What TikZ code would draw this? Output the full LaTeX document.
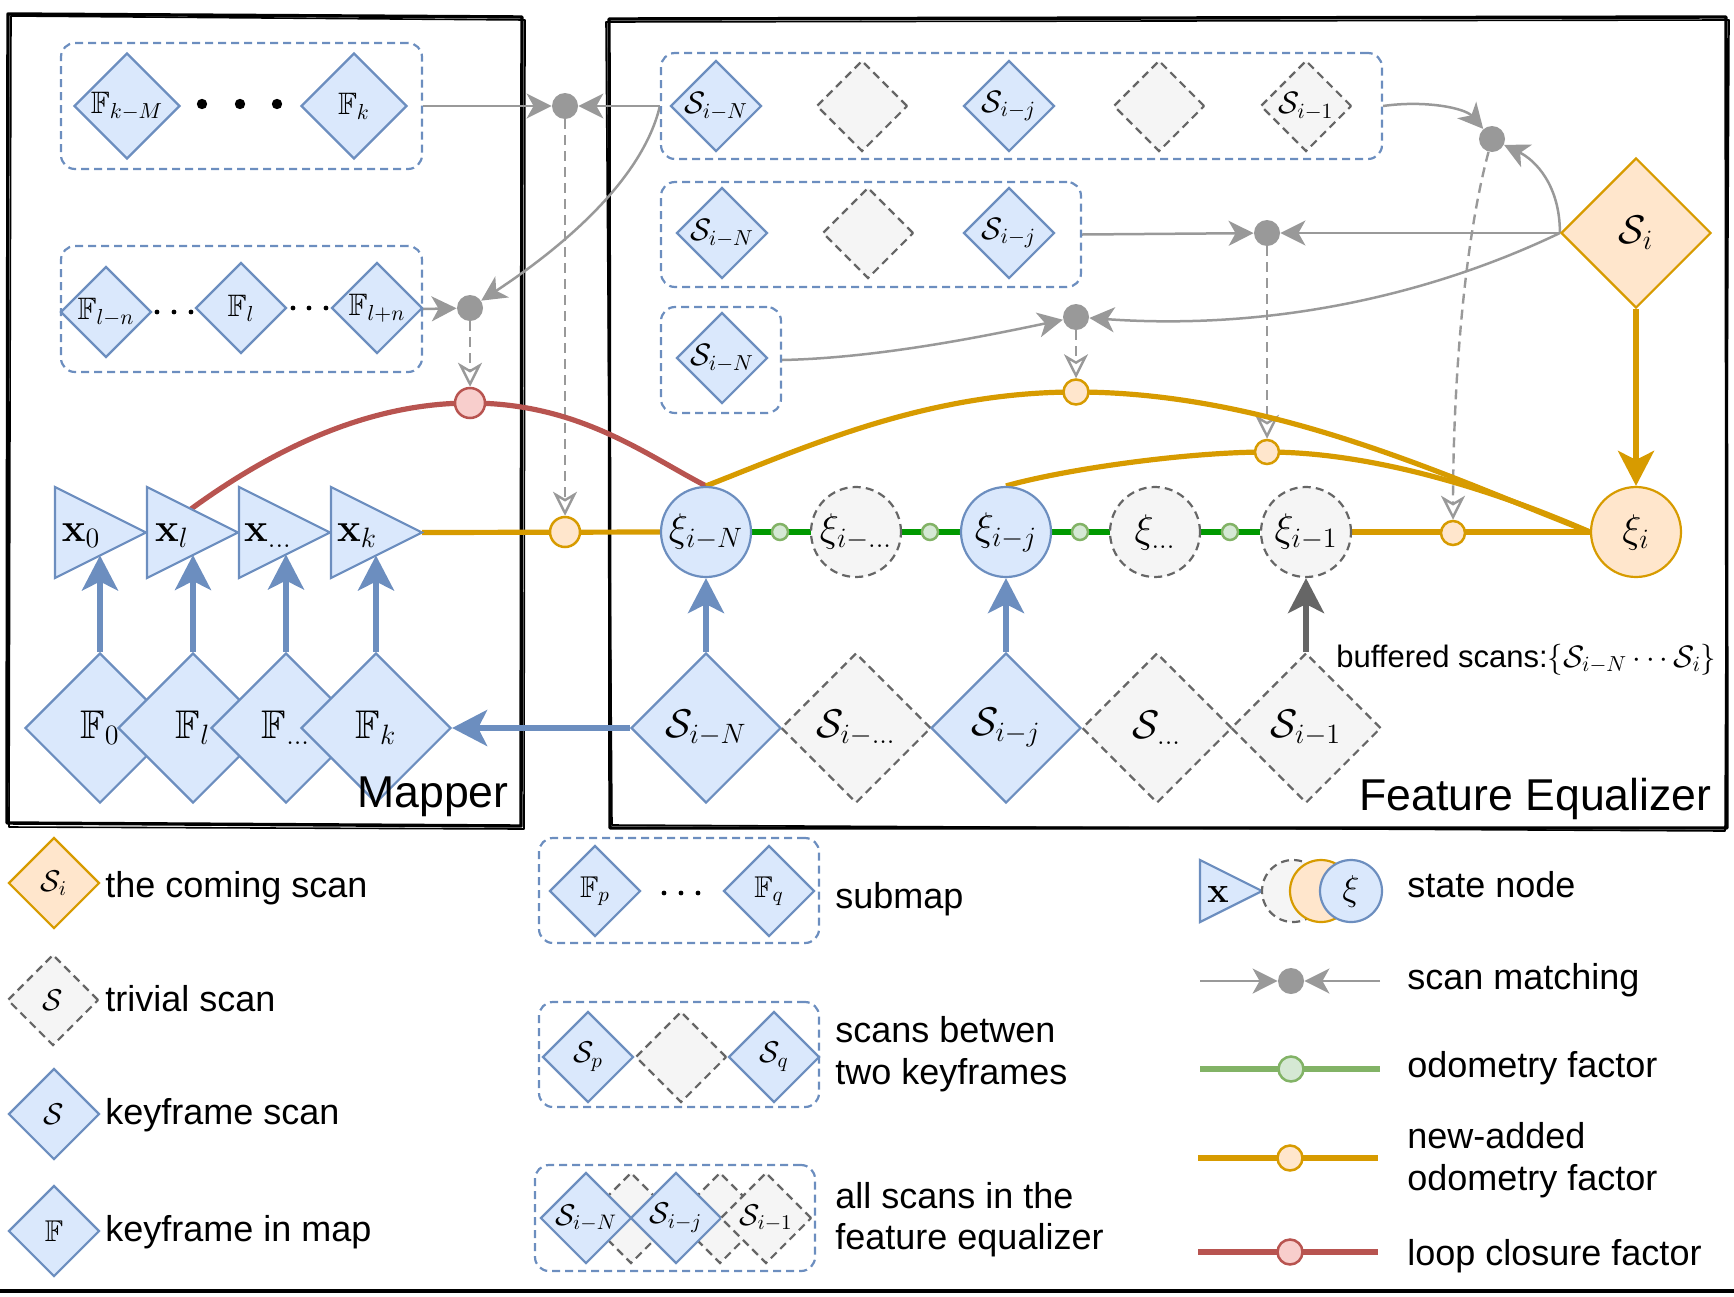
\RequirePackage{fix-cm}
\documentclass[tikz,border=0pt]{standalone}
\usepackage{amsmath,amssymb}
\usepackage[no-math]{fontspec}
\setmainfont{Liberation Sans}
\usetikzlibrary{shapes.geometric,arrows.meta,fit}
\definecolor{bfill}{HTML}{DAE8FC}
\definecolor{bdraw}{HTML}{6C8EBF}
\definecolor{ofill}{HTML}{FFE6CC}
\definecolor{odraw}{HTML}{D79B00}
\definecolor{gfill}{HTML}{F5F5F5}
\definecolor{gdraw}{HTML}{666666}
\definecolor{rfill}{HTML}{F8CECC}
\definecolor{rdraw}{HTML}{B85450}
\definecolor{lgfill}{HTML}{D5E8D4}
\definecolor{lgdraw}{HTML}{82B366}
\definecolor{odogreen}{HTML}{009900}
\definecolor{mgray}{HTML}{999999}
\newcommand\fsA{\fontsize{20}{24}\selectfont}
\newcommand\fsB{\fontsize{15.5}{18}\selectfont}
\newcommand\fsC{\fontsize{18}{21}\selectfont}
\newcommand\fsD{\fontsize{22.3}{26}\selectfont}
\newcommand\fsL{\fontsize{15}{18}\selectfont}
\pgfdeclarelayer{bg}
\pgfsetlayers{bg,main}
\tikzset{
  dia/.style={diamond, aspect=1, inner sep=0pt, line width=1.1pt},
  kf/.style={dia, draw=bdraw, fill=bfill},
  tv/.style={dia, draw=gdraw, fill=gfill, dash pattern=on 4pt off 2.6pt},
  cs/.style={dia, draw=odraw, fill=ofill},
  dS/.style={minimum size=45.5pt},
  dM/.style={minimum size=53pt},
  dL/.style={minimum size=75pt},
  grp/.style={draw=bdraw, line width=1.1pt, dash pattern=on 4pt off 2.5pt, rounded corners=7pt, inner sep=0pt},
  st/.style={circle, inner sep=0pt, minimum size=45pt, line width=1.1pt},
  stb/.style={st, draw=bdraw, fill=bfill},
  stg/.style={st, draw=gdraw, fill=gfill, dash pattern=on 4pt off 2.6pt},
  sto/.style={st, draw=odraw, fill=ofill},
  mdot/.style={circle, inner sep=0pt, minimum size=13pt, fill=mgray},
  fac/.style={circle, inner sep=0pt, line width=1.25pt},
  ofac/.style={fac, draw=odraw, fill=ofill},
  rfac/.style={fac, draw=rdraw, fill=rfill},
  gfac/.style={fac, draw=lgdraw, fill=lgfill},
  tri/.style={draw=bdraw, fill=bfill, line width=1.1pt, line join=miter},
  lab/.style={inner sep=0pt},
  txt/.style={inner sep=0pt, anchor=base west, font=\fsC},
  frame/.style={draw=black, line width=1.7pt, line join=round},
  frameb/.style={draw=black, line width=0.8pt, line join=round},
  match/.style={draw=mgray, line width=1.25pt, -{Stealth[length=12.5pt, width=12.5pt, inset=3.5pt]}},
  dmatch/.style={draw=mgray, line width=1.2pt, dash pattern=on 5pt off 3pt, -{Stealth[open, length=12pt, width=12pt, inset=3.5pt]}},
  bigtip/.style={-{Stealth[length=17.5pt, width=18pt, inset=4.5pt]}},
  barr/.style={draw=bdraw, line width=2.8pt, bigtip},
  garr/.style={draw=gdraw, line width=2.8pt, bigtip},
  oarr/.style={draw=odraw, line width=2.6pt, bigtip},
  oline/.style={draw=odraw, line width=2.6pt},
  rline/.style={draw=rdraw, line width=2.6pt},
  gline/.style={draw=odogreen, line width=2.6pt},
  lgline/.style={draw=lgdraw, line width=2.6pt},
}
\begin{document}
\begin{tikzpicture}[x=0.5pt,y=0.5pt]
\useasboundingbox (0,0) rectangle (1734,-1296);
% ---------------- Mapper: submaps
\node[grp, fit={(61,-43)(422,-169)}] (subA) {};
\node[kf,dM] (Fkm) at (127,-106) {};
\node[kf,dM] (Fk1) at (354,-106) {};
\node[lab,font=\fsB] (Fkmt) at (Fkm) {$\mathbb{F}_{k-M}$};
\node[lab,font=\fsB] (Fk1t) at (Fk1) {$\mathbb{F}_{k}$};
\foreach \xx in {202,240,277} \fill (\xx,-104) circle (2.6pt);
\node[grp, fit={(61,-246)(422,-372)}] (subB) {};
\node[kf,dS] (Fln) at (106,-312) {};
\node[kf,dS] (Fl1) at (241,-308) {};
\node[kf,dS] (Flp) at (377,-308) {};
\node[lab,font=\fsB] (Flnt) at (Fln) {$\mathbb{F}_{l-n}$};
\node[lab,font=\fsB] (Fl1t) at (Fl1) {$\mathbb{F}_{l}$};
\node[lab,font=\fsB] (Flpt) at (Flp) {$\mathbb{F}_{l+n}$};
\foreach \xx in {157,174,191} \fill (\xx,-312) circle (1.2pt);
\foreach \xx in {293,309,326} \fill (\xx,-308) circle (1.2pt);
% ---------------- Feature equalizer: scan groups
\node[grp, fit={(661,-53)(1382,-159)}] (rowA) {};
\node[kf,dS] (A1) at (716,-106) {};
\node[tv,dS] (A2) at (862,-106) {};
\node[kf,dS] (A3) at (1009,-106) {};
\node[tv,dS] (A4) at (1159,-106) {};
\node[tv,dS] (A5) at (1306,-106) {};
\node[lab,font=\fsB] (A1t) at (A1) {$\mathcal{S}_{i-N}$};
\node[lab,font=\fsB] (A3t) at (A3) {$\mathcal{S}_{i-j}$};
\node[lab,font=\fsB] (A5t) at (A5) {$\mathcal{S}_{i-1}$};
\node[grp, fit={(661,-182)(1081,-287)}] (rowB) {};
\node[kf,dS] (B1) at (722,-233) {};
\node[tv,dS] (B2) at (868,-233) {};
\node[kf,dS] (B3) at (1009,-233) {};
\node[lab,font=\fsB] (B1t) at (B1) {$\mathcal{S}_{i-N}$};
\node[lab,font=\fsB] (B3t) at (B3) {$\mathcal{S}_{i-j}$};
\node[grp, fit={(661,-307)(781,-413)}] (rowC) {};
\node[kf,dS] (C1) at (722,-358) {};
\node[lab,font=\fsB] (C1t) at (C1) {$\mathcal{S}_{i-N}$};
% scan matching dots
\node[mdot] (d1) at (565,-106) {};
\node[mdot] (d2) at (470,-308) {};
\node[mdot] (d3) at (1076,-317) {};
\node[mdot] (d4) at (1492,-139) {};
\node[mdot] (d5) at (1267,-233) {};
% coming scan
\node[cs,dL] (Si) at (1636,-233) {};
\node[lab,font=\fsA] (Sit) at (Si) {$\mathcal{S}_{i}$};
% ---------------- chain
\foreach \L in {55,147,239,331} \draw[tri] (\L,-487) -- (\L+91,-532.5) -- (\L,-578) -- cycle;
\node[lab,font=\fsA] (x0) at (81,-536) {$\mathbf{x}_0$};
\node[lab,font=\fsA] (xl) at (172,-536) {$\mathbf{x}_l$};
\node[lab,font=\fsA] (xd) at (268,-536) {$\mathbf{x}_{\ldots}$};
\node[lab,font=\fsA] (xk) at (357,-536) {$\mathbf{x}_k$};
\coordinate (x0b) at (100,-555.5);
\coordinate (xlb) at (193,-555);
\coordinate (xdb) at (286,-554.5);
\coordinate (xkb) at (376,-555.5);
\coordinate (xltop) at (191,-509);
\coordinate (xktip) at (422,-532.5);
\node[stb] (xiN) at (706,-532) {};
\node[stg] (xi2) at (856,-532) {};
\node[stb] (xij) at (1006,-532) {};
\node[stg] (xi4) at (1155,-532) {};
\node[stg] (xi1) at (1306,-532) {};
\node[sto] (xii) at (1636,-532) {};
\node[lab,font=\fsA] (xiNt) at (xiN) {$\xi_{i-N}$};
\node[lab,font=\fsA] (xi2t) at (xi2) {$\xi_{i-\ldots}$};
\node[lab,font=\fsA] (xijt) at (xij) {$\xi_{i-j}$};
\node[lab,font=\fsA] (xi4t) at (xi4) {$\xi_{\ldots}$};
\node[lab,font=\fsA] (xi1t) at (xi1) {$\xi_{i-1}$};
\node[lab,font=\fsA] (xiit) at (xii) {$\xi_{i}$};
% factors
\node[ofac, minimum size=15pt] (o1) at (565,-532) {};
\node[rfac, minimum size=15pt] (r1) at (470,-403) {};
\node[ofac, minimum size=12.5pt] (o2) at (1076,-392) {};
\node[ofac, minimum size=12pt] (o3) at (1267,-452) {};
\node[ofac, minimum size=12pt] (o4) at (1453,-533) {};
\node[gfac, minimum size=8pt] (g1) at (780,-532) {};
\node[gfac, minimum size=8pt] (g2) at (930,-532) {};
\node[gfac, minimum size=8pt] (g3) at (1080,-532) {};
\node[gfac, minimum size=8pt] (g4) at (1230,-532) {};
% keyframes in map
\node[kf,dL] (F0) at (100,-728) {};
\node[kf,dL] (Fl) at (193,-728) {};
\node[kf,dL] (Fd) at (286,-728) {};
\node[kf,dL] (Fk) at (376,-728) {};
\node[lab,font=\fsA] (F0t) at (F0) {$\mathbb{F}_{0}$};
\node[lab,font=\fsA] (Flt) at (Fl) {$\mathbb{F}_{l}$};
\node[lab,font=\fsA] (Fdt) at (Fd) {$\mathbb{F}_{\ldots}$};
\node[lab,font=\fsA] (Fkt) at (Fk) {$\mathbb{F}_{k}$};
% buffered scans
\node[kf,dL] (SN) at (706,-728) {};
\node[tv,dL] (Sd) at (856,-728) {};
\node[kf,dL] (Sj) at (1006,-728) {};
\node[tv,dL] (Sdd) at (1157,-728) {};
\node[tv,dL] (S1) at (1306,-728) {};
\node[lab,font=\fsA] (SNt) at (SN) {$\mathcal{S}_{i-N}$};
\node[lab,font=\fsA] (Sdt) at (Sd) {$\mathcal{S}_{i-\ldots}$};
\node[lab,font=\fsA] (Sjt) at (Sj) {$\mathcal{S}_{i-j}$};
\node[lab,font=\fsA] (Sddt) at (Sdd) {$\mathcal{S}_{\ldots}$};
\node[lab,font=\fsA] (S1t) at (S1) {$\mathcal{S}_{i-1}$};
% titles
\node[inner sep=0pt, anchor=base east, font=\fsD] (tmap) at (509,-807) {Mapper};
\node[inner sep=0pt, anchor=base east, font=\fsD] (tfe) at (1712,-810) {Feature Equalizer};
\node[inner sep=0pt, anchor=base west, font=\fsB] (tbuf) at (1336,-667) {buffered scans:$\{\mathcal{S}_{i-N}\cdots\mathcal{S}_i\}$};
% ---------------- legend left
\node[cs,dS] (Lsi) at (54,-883) {};
\node[lab,font=\fsL] (Lsit) at (Lsi) {$\mathcal{S}_{i}$};
\node[tv,dS] (Ltv) at (53,-1000) {};
\node[lab,font=\fsL] (Ltvt) at (Ltv) {$\mathcal{S}$};
\node[kf,dS] (Lkf) at (54,-1114) {};
\node[lab,font=\fsL] (Lkft) at (Lkf) {$\mathcal{S}$};
\node[kf,dS] (Lfm) at (54,-1231) {};
\node[lab,font=\fsL] (Lfmt) at (Lfm) {$\mathbb{F}$};
\node[txt] (T1) at (105,-897) {the coming scan};
\node[txt] (T2) at (105,-1011) {trivial scan};
\node[txt] (T3) at (105,-1124) {keyframe scan};
\node[txt] (T4) at (105,-1241) {keyframe in map};
% ---------------- legend middle
\node[grp, fit={(539,-838)(819,-943)}] (Lg1) {};
\node[kf,dS] (Lfp) at (595,-891) {};
\node[kf,dS] (Lfq) at (769,-891) {};
\node[lab,font=\fsL] (Lfpt) at (Lfp) {$\mathbb{F}_{p}$};
\node[lab,font=\fsL] (Lfqt) at (Lfq) {$\mathbb{F}_{q}$};
\foreach \xx in {664,681,698} \fill (\xx,-893) circle (1.2pt);
\node[txt] (T5) at (835,-908) {submap};
\node[grp, fit={(539,-1002)(819,-1107)}] (Lg2) {};
\node[kf,dS] (Lsp) at (588,-1057) {};
\node[tv,dS] (Lst) at (681,-1057) {};
\node[kf,dS] (Lsq) at (774,-1057) {};
\node[lab,font=\fsL] (Lspt) at (Lsp) {$\mathcal{S}_{p}$};
\node[lab,font=\fsL] (Lsqt) at (Lsq) {$\mathcal{S}_{q}$};
\node[txt] (T6) at (835,-1042) {scans betwen};
\node[txt] (T7) at (835,-1084) {two keyframes};
\node[grp, fit={(535,-1165)(815,-1271)}] (Lg3) {};
\node[tv,dS] (La2) at (631,-1218) {};
\node[tv,dS] (La4) at (720,-1218) {};
\node[kf,dS] (La1) at (586,-1218) {};
\node[kf,dS] (La3) at (676,-1218) {};
\node[tv,dS] (La5) at (766,-1218) {};
\node[lab,font=\fsL] (La1t) at (La1) {$\mathcal{S}_{i-N}$};
\node[lab,font=\fsL] (La3t) at (La3) {$\mathcal{S}_{i-j}$};
\node[lab,font=\fsL] (La5t) at (La5) {$\mathcal{S}_{i-1}$};
\node[txt] (T8) at (835,-1208) {all scans in the};
\node[txt] (T9) at (835,-1249) {feature equalizer};
% ---------------- legend right
\draw[tri] (1200,-860) -- (1262,-891) -- (1200,-922) -- cycle;
\node[lab,font=\fsC] (Lxt) at (1218,-894) {$\mathbf{x}$};
\node[stg, minimum size=31pt] (Lcg) at (1293,-891) {};
\node[sto, minimum size=31pt] (Lco) at (1321,-891) {};
\node[stb, minimum size=31pt] (Lcb) at (1351,-891) {};
\node[lab,font=\fsC] (Lcbt) at (Lcb) {$\xi$};
\node[txt] (T10) at (1407,-897) {state node};
\coordinate (lm1) at (1200,-981);
\coordinate (lm2) at (1380,-981);
\node[mdot] (lmd) at (1291,-981) {};
\node[txt] (T11) at (1407,-989) {scan matching};
\coordinate (lo1) at (1200,-1069);
\coordinate (lo2) at (1380,-1069);
\node[gfac, minimum size=12.5pt] (lodo) at (1291,-1069) {};
\node[txt] (T12) at (1407,-1077) {odometry factor};
\coordinate (ln1) at (1198,-1158);
\coordinate (ln2) at (1378,-1158);
\node[ofac, minimum size=12.5pt] (lnew) at (1290,-1158) {};
\node[txt] (T13) at (1407,-1148) {new-added};
\node[txt] (T14) at (1407,-1190) {odometry factor};
\coordinate (ll1) at (1198,-1252);
\coordinate (ll2) at (1378,-1252);
\node[rfac, minimum size=12.5pt] (lloop) at (1290,-1252) {};
\node[txt] (T15) at (1407,-1265) {loop closure factor};
% ---------------- background: frames and connectors
\begin{pgfonlayer}{bg}
\draw[frame] (8,-14) -- (522,-17) -- (521,-826) -- (7,-823) -- cycle;
\draw[frameb] (11,-16) -- (525,-20) -- (524,-829) -- (9,-827) -- cycle;
\draw[frame] (609,-19) -- (1726,-17) -- (1727,-828) -- (610,-828) -- cycle;
\draw[frameb] (606,-22) -- (1729,-20) -- (1725,-831) -- (612,-825) -- cycle;
\draw[line width=2pt] (0,-1291) -- (1734,-1291);
% scan matching
\draw[match] (subA.east) -- (d1);
\draw[match] (rowA.west) -- (d1);
\draw[match] (subB.east) -- (d2);
\draw[match] (rowA.west) .. controls (640,-190) and (540,-262) .. (d2);
\draw[match] (rowB.east) -- (d5);
\draw[match] (Si.west) -- (d5);
\draw[match] (rowC.east) .. controls (880,-358) and (990,-335) .. (d3);
\draw[match] (Si.west) .. controls (1420,-300) and (1260,-330) .. (d3);
\draw[match] (rowA.east) .. controls (1425,-100) and (1465,-108) .. (d4);
\draw[match] (Si.west) .. controls (1560,-185) and (1535,-160) .. (d4);
\draw[dmatch] (d1) -- (o1);
\draw[dmatch] (d2) -- (r1);
\draw[dmatch] (d3) -- (o2);
\draw[dmatch] (d5) -- (o3);
\draw[dmatch] (d4) .. controls (1462,-250) and (1453,-400) .. (o4);
% chain
\draw[oline] (xktip) -- (xiN.west);
\draw[gline] (xiN.east) -- (xi1.west);
\draw[oline] (xi1.east) -- (xii.west);
\draw[rline] (xltop) .. controls (261,-458) and (359,-403) .. (r1.center) .. controls (579,-403) and (646,-455) .. (xiN.north);
\draw[oline] (xiN.north) .. controls (806,-447) and (926,-392) .. (o2.center) .. controls (1276,-392) and (1461,-483) .. (xii.west);
\draw[oline] (xij.north) .. controls (1066,-469) and (1187,-452) .. (o3.center) .. controls (1377,-452) and (1501,-493) .. (xii.west);
% vertical arrows
\draw[barr] (F0.north) -- (x0b);
\draw[barr] (Fl.north) -- (xlb);
\draw[barr] (Fd.north) -- (xdb);
\draw[barr] (Fk.north) -- (xkb);
\draw[barr] (SN.north) -- (xiN.south);
\draw[barr] (Sj.north) -- (xij.south);
\draw[garr] (S1.north) -- (xi1.south);
\draw[barr] (SN.west) -- (Fk.east);
\draw[oarr] (Si.south) -- (xii.north);
% legend lines
\draw[match] (lm1) -- (lmd);
\draw[match] (lm2) -- (lmd);
\draw[lgline] (lo1) -- (lo2);
\draw[oline] (ln1) -- (ln2);
\draw[rline] (ll1) -- (ll2);
\end{pgfonlayer}
\end{tikzpicture}
\end{document}
